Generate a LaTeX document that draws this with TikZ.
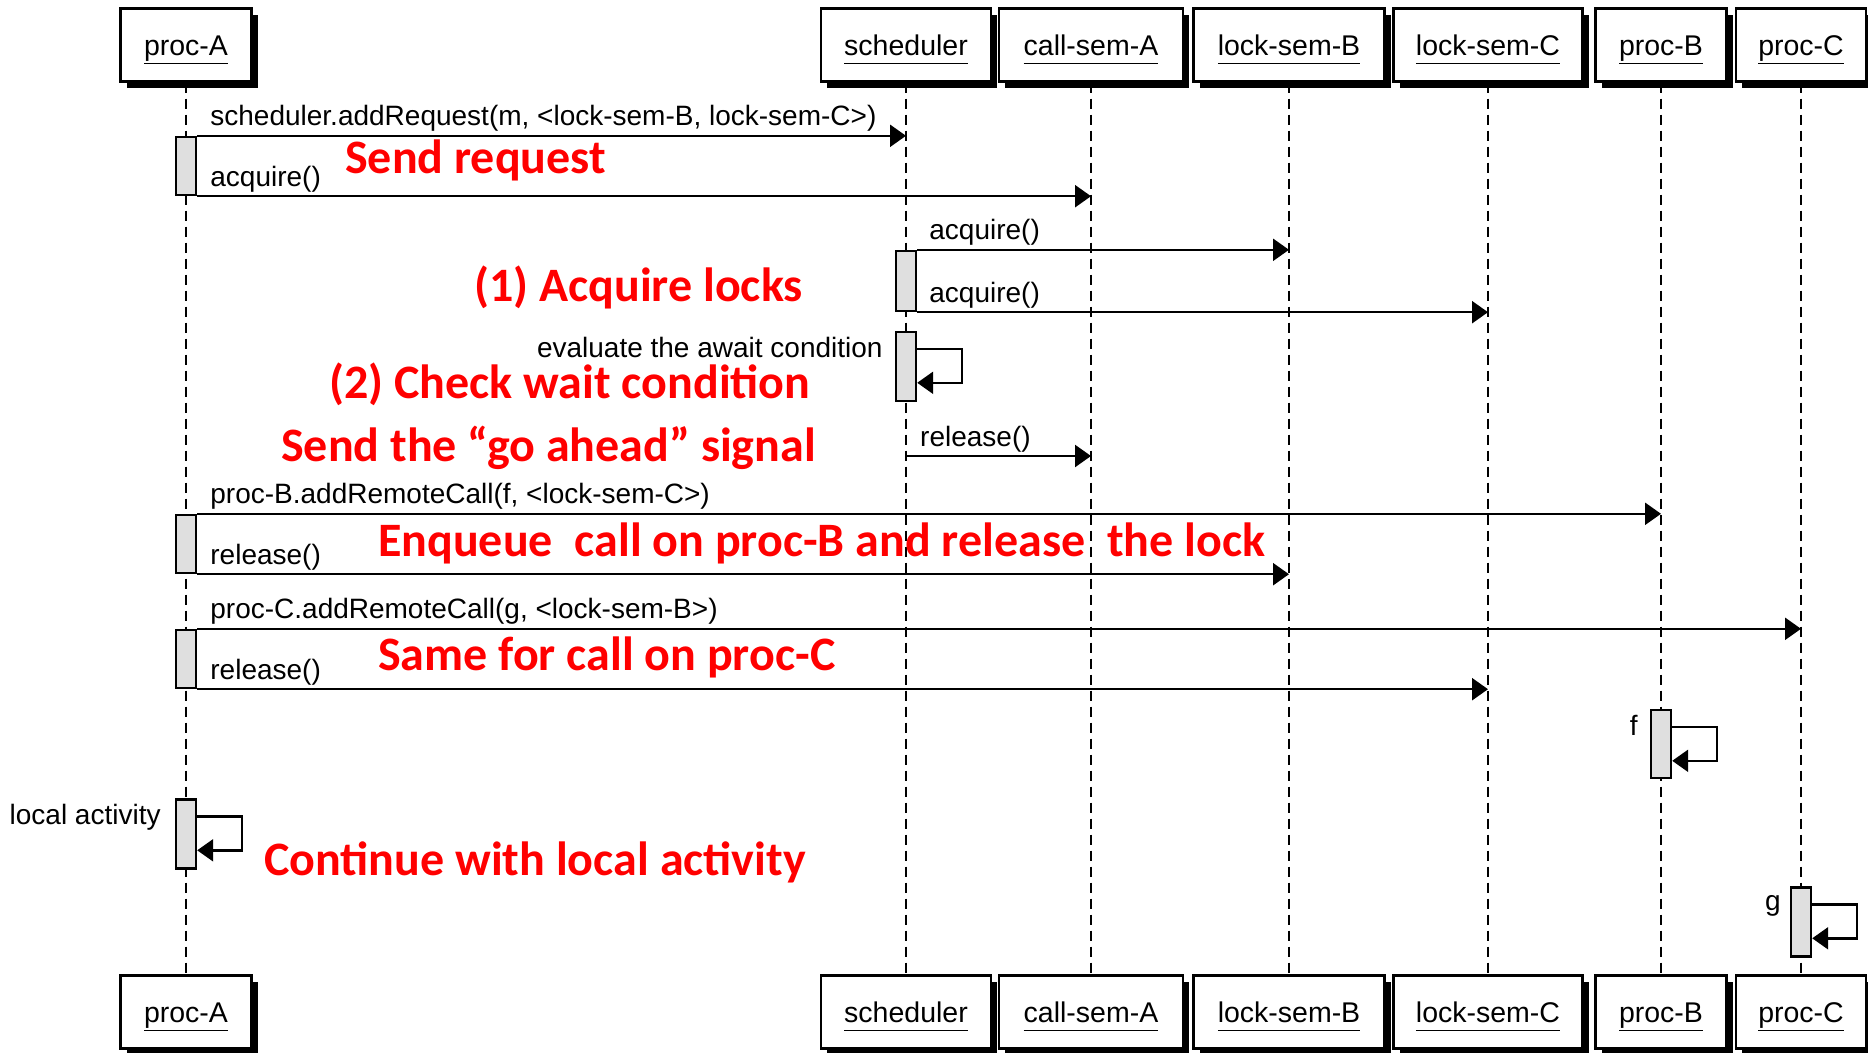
\documentclass[tikz,border=0pt]{standalone}
\usepackage{fontspec}
\setmainfont{Liberation Sans}
\newfontfamily\notefont{Carlito}
\usetikzlibrary{arrows.meta,shadows}

\begin{document}
\begin{tikzpicture}[x=1pt,y=-1pt,
    every node/.style={inner sep=0pt, font=\fontsize{28}{32}\selectfont},
    obj/.style={draw, line width=2.4pt, fill=white, minimum height=73pt,
        font=\fontsize{28.5}{32}\selectfont,
        drop shadow={shadow xshift=6pt, shadow yshift=-6pt, fill=black, opacity=1}},
    life/.style={line width=2.4pt, dash pattern=on 10pt off 6pt},
    act/.style={draw, line width=2.4pt, fill=gray!25, minimum width=20pt},
    msg/.style={line width=2.4pt, -{Triangle[length=16pt,width=22pt]}},
    note/.style={anchor=west, text=red, font=\notefont\bfseries\fontsize{48}{52}\selectfont},
    ]
  \useasboundingbox (0,0) rectangle (1868,1052);
  \foreach \n/\x/\w/\t in {pA/186/131/proc-A, sch/906/170/scheduler, csA/1091/184/call-sem-A,
      lsB/1289/191/lock-sem-B, lsC/1488/189/lock-sem-C, pB/1661/131/proc-B, pC/1801/130/proc-C}{
    \node[obj, minimum width=\w pt] (\n) at (\x,45) {\rule{0pt}{29pt}\underline{\t\vphantom{pdA}}};
    \node[obj, minimum width=\w pt] (\n-end) at (\x,1012) {\rule{0pt}{29pt}\underline{\t\vphantom{pdA}}};
    \draw[life] (\n) -- (\n-end);
  }

  \node[act, minimum height=58pt] (aA1) at (186,166) {};
  \node[act, minimum height=60pt] (aS1) at (906,281) {};
  \node[act, minimum height=69pt] (aS2) at (906,366.5) {};
  \node[act, minimum height=58pt] (aA2) at (186,544) {};
  \node[act, minimum height=58pt] (aA3) at (186,659) {};
  \node[act, minimum height=68pt] (aB) at (1661,744) {};
  \node[act, minimum height=69pt] (aA4) at (186,834) {};
  \node[act, minimum height=69pt] (aC) at (1801,922) {};

  \draw[msg] (aA1.north east) -- (aA1.north east -| sch)
    node[pos=0, anchor=base west, xshift=12pt, yshift=10pt] {scheduler.addRequest(m, <lock-sem-B, lock-sem-C>)};
  \draw[msg] (aA1.south east) -- (aA1.south east -| csA)
    node[pos=0, anchor=base west, xshift=12pt, yshift=10pt] {acquire()};
  \draw[msg] (aS1.north east) -- (aS1.north east -| lsB)
    node[pos=0, anchor=base west, xshift=11pt, yshift=10pt] {acquire()};
  \draw[msg] (aS1.south east) -- (aS1.south east -| lsC)
    node[pos=0, anchor=base west, xshift=11pt, yshift=10pt] {acquire()};
  \draw[msg] ([yshift=-18pt]aS2.north east) -- ++(45,0) -- ++(0,34) -- ++(-45,0);
  \node[anchor=east] (lS) at ([xshift=-12pt,yshift=-17pt]aS2.north west) {evaluate the await condition};
  \coordinate (rel) at (906,456);
  \draw[msg] (rel) -- (rel -| csA)
    node[pos=0, anchor=base west, xshift=13pt, yshift=10pt] {release()};
  \draw[msg] (aA2.north east) -- (aA2.north east -| pB)
    node[pos=0, anchor=base west, xshift=12pt, yshift=10pt] {proc-B.addRemoteCall(f, <lock-sem-C>)};
  \draw[msg] (aA2.south east) -- (aA2.south east -| lsB)
    node[pos=0, anchor=base west, xshift=12pt, yshift=10pt] {release()};
  \draw[msg] (aA3.north east) -- (aA3.north east -| pC)
    node[pos=0, anchor=base west, xshift=12pt, yshift=10pt] {proc-C.addRemoteCall(g, <lock-sem-B>)};
  \draw[msg] (aA3.south east) -- (aA3.south east -| lsC)
    node[pos=0, anchor=base west, xshift=12pt, yshift=10pt] {release()};
  \draw[msg] ([yshift=-18pt]aB.north east) -- ++(45,0) -- ++(0,34) -- ++(-45,0);
  \node[anchor=east] (lB) at ([xshift=-12pt,yshift=-17pt]aB.north west) {f};
  \draw[msg] ([yshift=-18pt]aA4.north east) -- ++(45,0) -- ++(0,34) -- ++(-45,0);
  \node[anchor=east] (lA) at ([xshift=-14pt,yshift=-19pt]aA4.north west) {local activity};
  \draw[msg] ([yshift=-18pt]aC.north east) -- ++(45,0) -- ++(0,34) -- ++(-45,0);
  \node[anchor=east] (lC) at ([xshift=-9pt,yshift=-20pt]aC.north west) {g};

  \node[note] (n1) at (345,160) {Send request};
  \node[note] (n2) at (474,287) {(1) Acquire locks};
  \node[note] (n3) at (329,384) {(2) Check wait condition};
  \node[note] (n4) at (281,448) {Send the “go ahead” signal};
  \node[note] (n5) at (378,543) {Enqueue\ \ call on proc-B and release\ \ the lock};
  \node[note] (n6) at (378,657) {Same for call on proc-C};
  \node[note] (n7) at (264,862) {Continue with local activity};
\end{tikzpicture}
\end{document}
